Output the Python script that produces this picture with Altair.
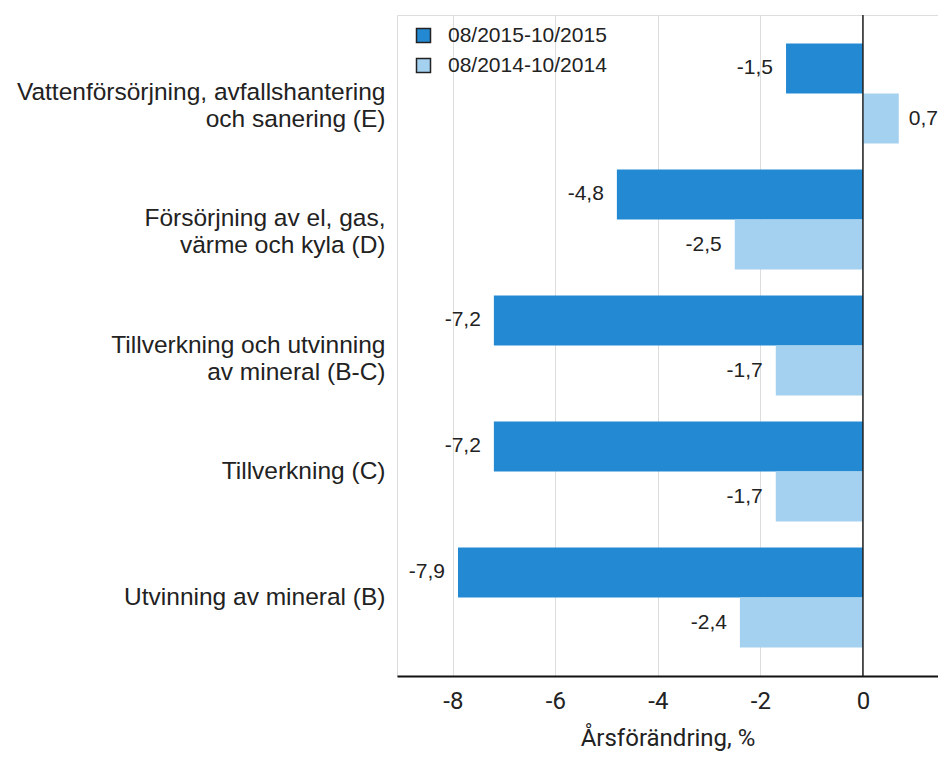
import altair as alt
import pandas as pd

categories = [
    "Vattenförsörjning, avfallshantering|och sanering (E)",
    "Försörjning av el, gas,|värme och kyla (D)",
    "Tillverkning och utvinning|av mineral (B-C)",
    "Tillverkning (C)",
    "Utvinning av mineral (B)",
]
series = ["08/2015-10/2015", "08/2014-10/2014"]
values_2015 = [-1.5, -4.8, -7.2, -7.2, -7.9]
values_2014 = [0.7, -2.5, -1.7, -1.7, -2.4]
x_ticks = [-8, -6, -4, -2, 0]
colors = ["#2389D3", "#A5D1F0"]

rows = []
for c, a, b in zip(categories, values_2015, values_2014):
    rows.append({"cat": c, "series": series[0], "value": a})
    rows.append({"cat": c, "series": series[1], "value": b})
df = pd.DataFrame(rows)

TXT = "#222222"
xscale = alt.Scale(domain=[-9.09, 1.465], nice=False)
yscale = alt.Scale(domain=categories, paddingInner=0.206, paddingOuter=0.226)
yoff = alt.YOffset("series:N", sort=series,
                   scale=alt.Scale(domain=series, paddingInner=0, paddingOuter=0))

x_enc = alt.X(
    "value:Q", scale=xscale,
    axis=alt.Axis(
        values=x_ticks, title="Årsförändring, %", labelExpr="'' + datum.value",
        labelFont="Roboto", labelFontSize=24, labelColor=TXT, labelPadding=13,
        ticks=False, domainColor="#111111", domainWidth=2,
        grid=True, gridColor="#dddddd", gridWidth=1,
        titleFont="Roboto", titleFontSize=24, titleFontWeight="normal",
        titleColor=TXT, titleY=69, titleBaseline="alphabetic",
    ),
)
y_enc = alt.Y(
    "cat:N", sort=categories, scale=yscale,
    axis=alt.Axis(
        title=None, labelExpr="split(datum.label, '|')",
        labelFont="Liberation Sans", labelFontSize=24.5, labelColor=TXT,
        labelLineHeight=27, labelAlign="right", labelBaseline="middle",
        labelPadding=12, labelLimit=500, ticks=False, domain=False,
    ),
)

base = alt.Chart(df)

bars = base.mark_bar().encode(
    x=x_enc,
    x2=alt.datum(0),
    y=y_enc,
    yOffset=yoff,
    color=alt.Color(
        "series:N", scale=alt.Scale(domain=series, range=colors),
        legend=alt.Legend(
            title=None, orient="none", legendX=16, legendY=10,
            symbolType="square", symbolSize=196,
            symbolStrokeColor="#222222", symbolStrokeWidth=1.5,
            labelFont="Liberation Sans", labelFontSize=21, labelColor=TXT,
            labelOffset=14, labelLimit=400, rowPadding=8, padding=0,
        ),
    ),
)

lbl_expr = "(datum.value < 0 ? '-' : '') + replace(format(abs(datum.value), '.1f'), '.', ',')"

neg_labels = base.transform_filter("datum.value < 0").transform_calculate(
    lbl=lbl_expr
).mark_text(align="right", baseline="middle", dx=-13, font="Liberation Sans",
            fontSize=21, color=TXT).encode(
    x=alt.X("value:Q", scale=xscale), y=alt.Y("cat:N", sort=categories, scale=yscale),
    yOffset=yoff, text="lbl:N",
)
pos_labels = base.transform_filter("datum.value >= 0").transform_calculate(
    lbl=lbl_expr
).mark_text(align="left", baseline="middle", dx=10, font="Liberation Sans",
            fontSize=21, color=TXT).encode(
    x=alt.X("value:Q", scale=xscale), y=alt.Y("cat:N", sort=categories, scale=yscale),
    yOffset=yoff, text="lbl:N",
)

zero = alt.Chart(pd.DataFrame({"v": [0]})).mark_rule(
    color="#222222", strokeWidth=1.5
).encode(x=alt.X("v:Q", scale=xscale))

chart = alt.layer(bars, neg_labels, pos_labels, zero).properties(
    width=541, height=661,
    padding={"left": 389, "top": 7, "right": 0, "bottom": 76},
    autosize=alt.AutoSizeParams(type="none"),
).configure_view(stroke=None).configure(background="white")

chart.save("out.html", embed_options={"renderer": "svg", "actions": False})
